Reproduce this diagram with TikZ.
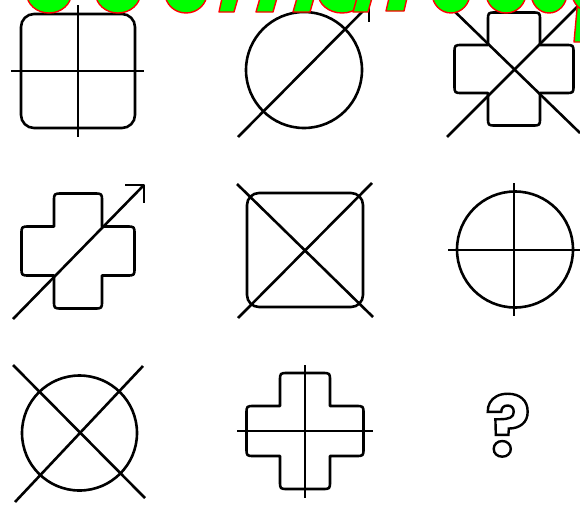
\documentclass[tikz,border=0pt]{standalone}
\usepackage{fontspec}
\newfontfamily\qfont{Poppins}
\definecolor{wmgreen}{RGB}{0,255,0}
\definecolor{wmred}{RGB}{255,0,0}
% rounded cross: cx cy a(vert half-width) b(vert half-height) c(horiz half-height) d(horiz half-width) r style
\newcommand\crossshape[8]{%
\draw[#8] ({#1-#3},{#2-#4+#7}) .. controls ({#1-#3},{#2-#4}) .. ({#1-#3+#7},{#2-#4})
 -- ({#1+#3-#7},{#2-#4}) .. controls ({#1+#3},{#2-#4}) .. ({#1+#3},{#2-#4+#7})
 -- ({#1+#3},{#2-#5}) -- ({#1+#6-#7},{#2-#5}) .. controls ({#1+#6},{#2-#5}) .. ({#1+#6},{#2-#5+#7})
 -- ({#1+#6},{#2+#5-#7}) .. controls ({#1+#6},{#2+#5}) .. ({#1+#6-#7},{#2+#5})
 -- ({#1+#3},{#2+#5}) -- ({#1+#3},{#2+#4-#7}) .. controls ({#1+#3},{#2+#4}) .. ({#1+#3-#7},{#2+#4})
 -- ({#1-#3+#7},{#2+#4}) .. controls ({#1-#3},{#2+#4}) .. ({#1-#3},{#2+#4-#7})
 -- ({#1-#3},{#2+#5}) -- ({#1-#6+#7},{#2+#5}) .. controls ({#1-#6},{#2+#5}) .. ({#1-#6},{#2+#5-#7})
 -- ({#1-#6},{#2-#5+#7}) .. controls ({#1-#6},{#2-#5}) .. ({#1-#6+#7},{#2-#5})
 -- ({#1-#3},{#2-#5}) -- cycle;}
\begin{document}
\begin{tikzpicture}[x=1pt,y=-1pt,
  fig/.style={line width=2.6pt, line join=round},
  wm/.style={fill=wmgreen, draw=wmred, line width=1.4pt, line join=round}]
\useasboundingbox (0,0) rectangle (580,506);
\fill[white] (0,0) rectangle (580,506);

% Figure 1: rounded square with plus
\draw[fig, rounded corners=13pt] (21,14) rectangle (135,128);
\coordinate (f1l) at (11,71); \coordinate (f1r) at (144,71);
\coordinate (f1t) at (78,5);  \coordinate (f1b) at (78,137);
\draw[fig] (f1l) -- (f1r);
\draw[fig] (f1t) -- (f1b);

% Figure 2: circle with arrow
\draw[fig] (304,70) circle (58);
\coordinate (f2s) at (238,137); \coordinate (f2tip) at (369,5);
\draw[fig] (f2s) -- (f2tip);
\draw[fig] (352,5) -- (f2tip) -- (369,22);

% Figure 3: cross with X
\crossshape{514}{69}{26}{56.5}{24}{59.5}{8}{fig}
\draw[fig] (447,137) -- (580,4);
\draw[fig] (448,5) -- (580,133);

% Figure 4: cross with arrow
\crossshape{78}{251}{24}{57.5}{24.5}{56.5}{8}{fig}
\coordinate (f4s) at (13,319); \coordinate (f4tip) at (144,185);
\draw[fig] (f4s) -- (f4tip);
\draw[fig] (125,185) -- (f4tip) -- (144,203);

% Figure 5: rounded square with X
\draw[fig, rounded corners=12pt] (247,193) rectangle (363,307);
\draw[fig] (237,184) -- (373,317);
\draw[fig] (238,318) -- (372,183);

% Figure 6: circle with plus
\draw[fig] (515,249.5) circle (58);
\draw[fig] (448,250) -- (580,250);
\draw[fig] (514,183) -- (514,316);

% Figure 7: circle with X
\draw[fig] (79.5,433) circle (57.5);
\draw[fig] (13,365) -- (145,498);
\draw[fig] (15,502) -- (143,366);

% Figure 8: cross with plus
\crossshape{305}{431}{25}{58}{25}{58.5}{8}{fig}
\draw[fig] (305,365) -- (305,498);
\draw[fig] (237,431) -- (373,431);

% Question mark (outlined)
\node[inner sep=0pt, anchor=base] (qm) at (508,456)
  {\qfont\bfseries\fontsize{84}{84}\selectfont\special{pdf:literal direct 1 Tr 2.4 w}?\special{pdf:literal direct 0 Tr}};

% Watermark fragments (cut off at the top edge)
\filldraw[wm] (49,-7) ellipse [x radius=22.5, y radius=20];
\filldraw[wm] (118,-7) ellipse [x radius=22.5, y radius=20];
\filldraw[wm] (186,-7) ellipse [x radius=21, y radius=20];
\filldraw[wm] (222,-2) -- (238,-2) -- (234,12) -- (219,12) -- cycle;
\filldraw[wm] (260,-2) -- (277,-2) -- (273,12) -- (256,12) -- cycle;
\filldraw[wm] (297,-2) -- (314,-2) -- (310,12) -- (293,12) -- cycle;
\filldraw[wm] (342,-7) ellipse [x radius=24, y radius=20];
\filldraw[wm] (357,-2) -- (372,-2) -- (368,12) -- (353,12) -- cycle;
\filldraw[wm] (389,-2) -- (407,-2) -- (404,11) -- (386,11) -- cycle;
\filldraw[wm] (451,-7) ellipse [x radius=19, y radius=20];
\filldraw[wm] (506,-7) ellipse [x radius=20, y radius=20];
\filldraw[wm] (549,-7) ellipse [x radius=18, y radius=20];
\filldraw[wm] (578,-2) -- (592,-2) -- (588,42) -- (574,42) -- cycle;
\filldraw[wm] (594,-7) ellipse [x radius=22, y radius=20];
\end{tikzpicture}
\end{document}
